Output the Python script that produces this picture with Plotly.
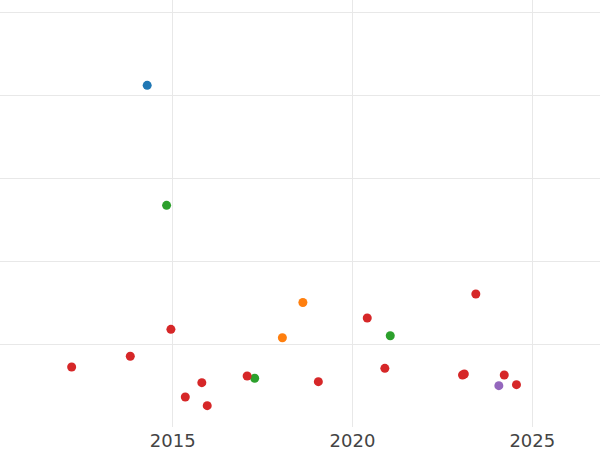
import plotly.graph_objects as go

# Data (x in years, y in arbitrary units)
blue_x = [2014.29]
blue_y = [41.17]

orange_x = [2018.05, 2018.62]
orange_y = [10.76, 15.0]

green_x = [2014.83, 2017.28, 2021.05]
green_y = [26.71, 5.87, 11.0]

red_x = [2012.19, 2013.82, 2014.95, 2015.35, 2015.81, 2015.96, 2017.07,
         2019.05, 2020.41, 2020.90, 2023.43, 2023.06, 2023.11, 2024.22, 2024.56]
red_y = [7.23, 8.52, 11.77, 3.61, 5.34, 2.57, 6.14,
         5.46, 13.13, 7.07, 16.02, 6.27, 6.39, 6.27, 5.10]

purple_x = [2024.07]
purple_y = [4.98]

x_tick_vals = [2015, 2020, 2025]
x_tick_text = ["2015", "2020", "2025"]

series = [
    (blue_x, blue_y, "#1f77b4"),
    (orange_x, orange_y, "#ff7f0e"),
    (green_x, green_y, "#2ca02c"),
    (red_x, red_y, "#d62728"),
    (purple_x, purple_y, "#9467bd"),
]

fig = go.Figure()
for xs, ys, c in series:
    fig.add_trace(go.Scatter(x=xs, y=ys, mode="markers",
                             marker=dict(color=c, size=9),
                             showlegend=False))

fig.update_layout(
    width=600, height=450,
    margin=dict(l=0, r=0, t=0, b=23),
    paper_bgcolor="white", plot_bgcolor="white",
    font=dict(family="DejaVu Sans", color="#444444", size=18),
    xaxis=dict(range=[2010.197, 2026.883], tickvals=x_tick_vals, ticktext=x_tick_text,
               showgrid=True, gridcolor="#e8e8e8", gridwidth=1, zeroline=False,
               showline=False, ticks="", ticklabelstandoff=1, automargin=False),
    yaxis=dict(range=[0, 51.45], dtick=10, showticklabels=False,
               showgrid=True, gridcolor="#e8e8e8", gridwidth=1, zeroline=False,
               showline=False, automargin=False),
)

fig.write_html("out.html", config={"displayModeBar": False},
               post_script="document.body.style.margin='0';document.body.style.overflow='hidden';")
